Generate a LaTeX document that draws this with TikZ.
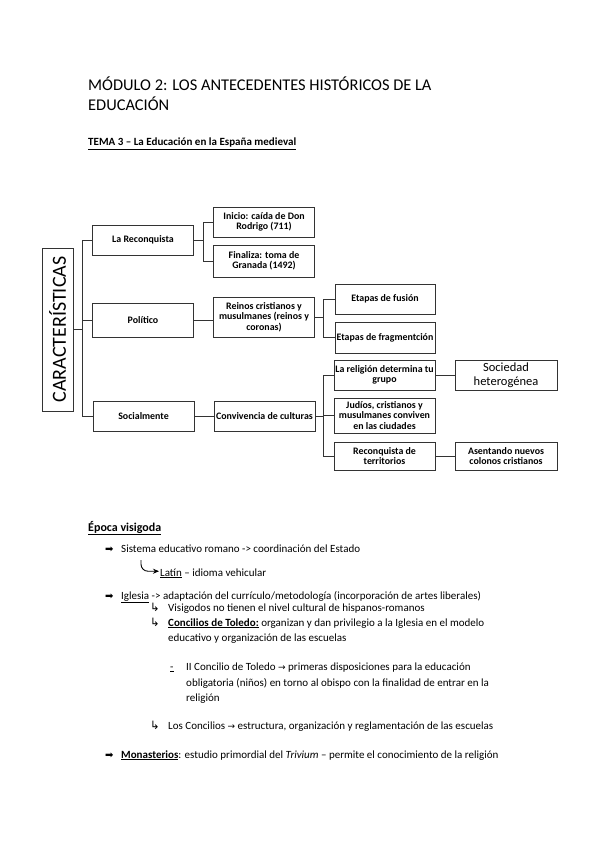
\documentclass[tikz,border=0pt]{standalone}
\usepackage{fontspec}
\setmainfont{Carlito}
\newfontfamily\simbolos{DejaVu Sans}
\usetikzlibrary{positioning,arrows.meta}

\tikzset{
  caja/.style={draw=black!80, line width=0.8pt, align=center, inner sep=0.3pt,
    minimum width=101pt, minimum height=30pt, font=\fontsize{9.9}{10.4}\selectfont\bfseries},
  rama/.style={draw=black!80, line width=0.8pt},
  linea/.style={anchor=base west, inner sep=0pt, font=\fontsize{11}{13}\selectfont},
  flecha/.style={anchor=base west, inner sep=0pt, font=\simbolos\fontsize{10}{12}\selectfont},
  gancho/.style={anchor=base west, inner sep=0pt, font=\simbolos\fontsize{11.5}{13}\selectfont},
}

\begin{document}
\begin{tikzpicture}[x=1pt,y=-1pt]
    % page
    \fill[white] (0,0) rectangle (599,848);

    % heading
    \node[linea, font=\fontsize{16.4}{20}\selectfont] (tit1) at (88,91) {MÓDULO 2: LOS ANTECEDENTES HISTÓRICOS DE LA};
    \node[linea, font=\fontsize{16.4}{20}\selectfont] (tit2) at (88,111) {EDUCACIÓN};
    \node[linea, font=\fontsize{11}{13}\selectfont\bfseries] (tema) at (88,146) {\underline{TEMA 3 – La Educación en la España medieval}};

    % diagram boxes
    \node[caja, rotate=90, minimum width=163pt, minimum height=31pt, font=\fontsize{20}{24}\selectfont] (caract) at (57.5,329.5) {CARACTERÍSTICAS};
    \node[caja] (reconq) at (143,240) {La Reconquista};
    \node[caja, minimum height=34pt] (politico) at (143,320) {Político};
    \node[caja] (social) at (143.5,416) {Socialmente};

    \node[caja] (inicio) at (264,222) {Inicio: caída de Don\\Rodrigo (711)};
    \node[caja, minimum height=32pt] (finaliza) at (264,261) {Finaliza: toma de\\Granada (1492)};
    \node[caja, minimum height=40pt] (reinos) at (264,317) {Reinos cristianos y\\musulmanes (reinos y\\coronas)};
    \node[caja] (conviv) at (264.5,416) {Convivencia de culturas};

    \node[caja, minimum width=100pt] (fusion) at (385,299) {Etapas de fusión};
    \node[caja, minimum width=100pt, minimum height=31pt] (fragm) at (385,337.5) {Etapas de fragmentción};
    \node[caja] (religion) at (384.5,375) {La religión determina tu\\grupo};
    \node[caja, minimum height=35pt] (judios) at (384.5,415.5) {Judíos, cristianos y\\musulmanes conviven\\en las ciudades};
    \node[caja, minimum height=28pt] (reconterr) at (384.5,456) {Reconquista de\\territorios};

    \node[caja, minimum width=102pt, font=\fontsize{12.5}{13.5}\selectfont] (sociedad) at (506,375) {Sociedad\\heterogénea};
    \node[caja, minimum width=102pt, minimum height=28pt] (asentando) at (506,456) {Asentando nuevos\\colonos cristianos};

    % connectors
    \draw[rama] (reconq.west) -- ++(-10,0) |- (caract.south);
    \draw[rama] (politico.west) -- ++(-10,0) |- (caract.south);
    \draw[rama] (social.west) -- ++(-10,0) |- (caract.south);

    \draw[rama] (inicio.west) -- ++(-10,0) |- (reconq.east);
    \draw[rama] (finaliza.west) -- ++(-10,0) |- (reconq.east);
    \draw[rama] (politico.east) -- (politico.east -| reinos.west);
    \draw[rama] (social.east) -- (conviv.west);

    \draw[rama] (fusion.west) -- ++(-11,0) |- (reinos.east);
    \draw[rama] (fragm.west) -- ++(-11,0) |- (reinos.east);
    \draw[rama] (religion.west) -- ++(-10,0) |- (conviv.east);
    \draw[rama] (judios.west) -- ++(-10,0) |- (conviv.east);
    \draw[rama] (reconterr.west) -- ++(-10,0) |- (conviv.east);

    \draw[rama] (religion.east) -- (sociedad.west);
    \draw[rama] (reconterr.east) -- (asentando.west);

    % epoca visigoda
    \node[linea, font=\fontsize{12}{14}\selectfont\bfseries] (epoca) at (88,531) {\underline{Época visigoda}};

    \node[flecha] (f1) at (105,552.5) {➡};
    \node[linea] (l1) at (121,552) {Sistema educativo romano -> coordinación del Estado};
    \node[linea] (latin) at (160,576) {\underline{Latín} – idioma vehicular};
    \coordinate (c0) at (141,560);
    \draw[line width=0.9pt, rounded corners=7pt, -{Stealth[length=6pt,width=5pt]}] (c0) |- ([xshift=-1pt,yshift=2pt]latin.west);

    \node[flecha] (f2) at (105,599.5) {➡};
    \node[linea] (l2) at (121,599) {\underline{Iglesia} -> adaptación del currículo/metodología (incorporación de artes liberales)};
    \node[gancho] (g1) at (150,611) {↳};
    \node[linea] (l3) at (168,611) {Visigodos no tienen el nivel cultural de hispanos-romanos};
    \node[gancho] (g2) at (150,626) {↳};
    \node[linea] (l4) at (168,626) {\textbf{\underline{Concilios de Toledo:}} organizan y dan privilegio a la Iglesia en el modelo};
    \node[linea] (l5) at (168,641) {educativo y organización de las escuelas};

    \node[linea] (guion) at (170,670) {\underline{-}};
    \node[linea] (l6) at (186,670) {II Concilio de Toledo {\simbolos\fontsize{9}{11}\selectfont →} primeras disposiciones para la educación};
    \node[linea] (l7) at (186,686) {obligatoria (niños) en torno al obispo con la finalidad de entrar en la};
    \node[linea] (l8) at (186,701) {religión};

    \node[gancho] (g3) at (150,729) {↳};
    \node[linea] (l9) at (168,729) {Los Concilios {\simbolos\fontsize{9}{11}\selectfont →} estructura, organización y reglamentación de las escuelas};

    \node[flecha] (f3) at (105,758.5) {➡};
    \node[linea] (l10) at (121,758) {\textbf{\underline{Monasterios}}: estudio primordial del \textit{Trivium} – permite el conocimiento de la religión};
\end{tikzpicture}
\end{document}
